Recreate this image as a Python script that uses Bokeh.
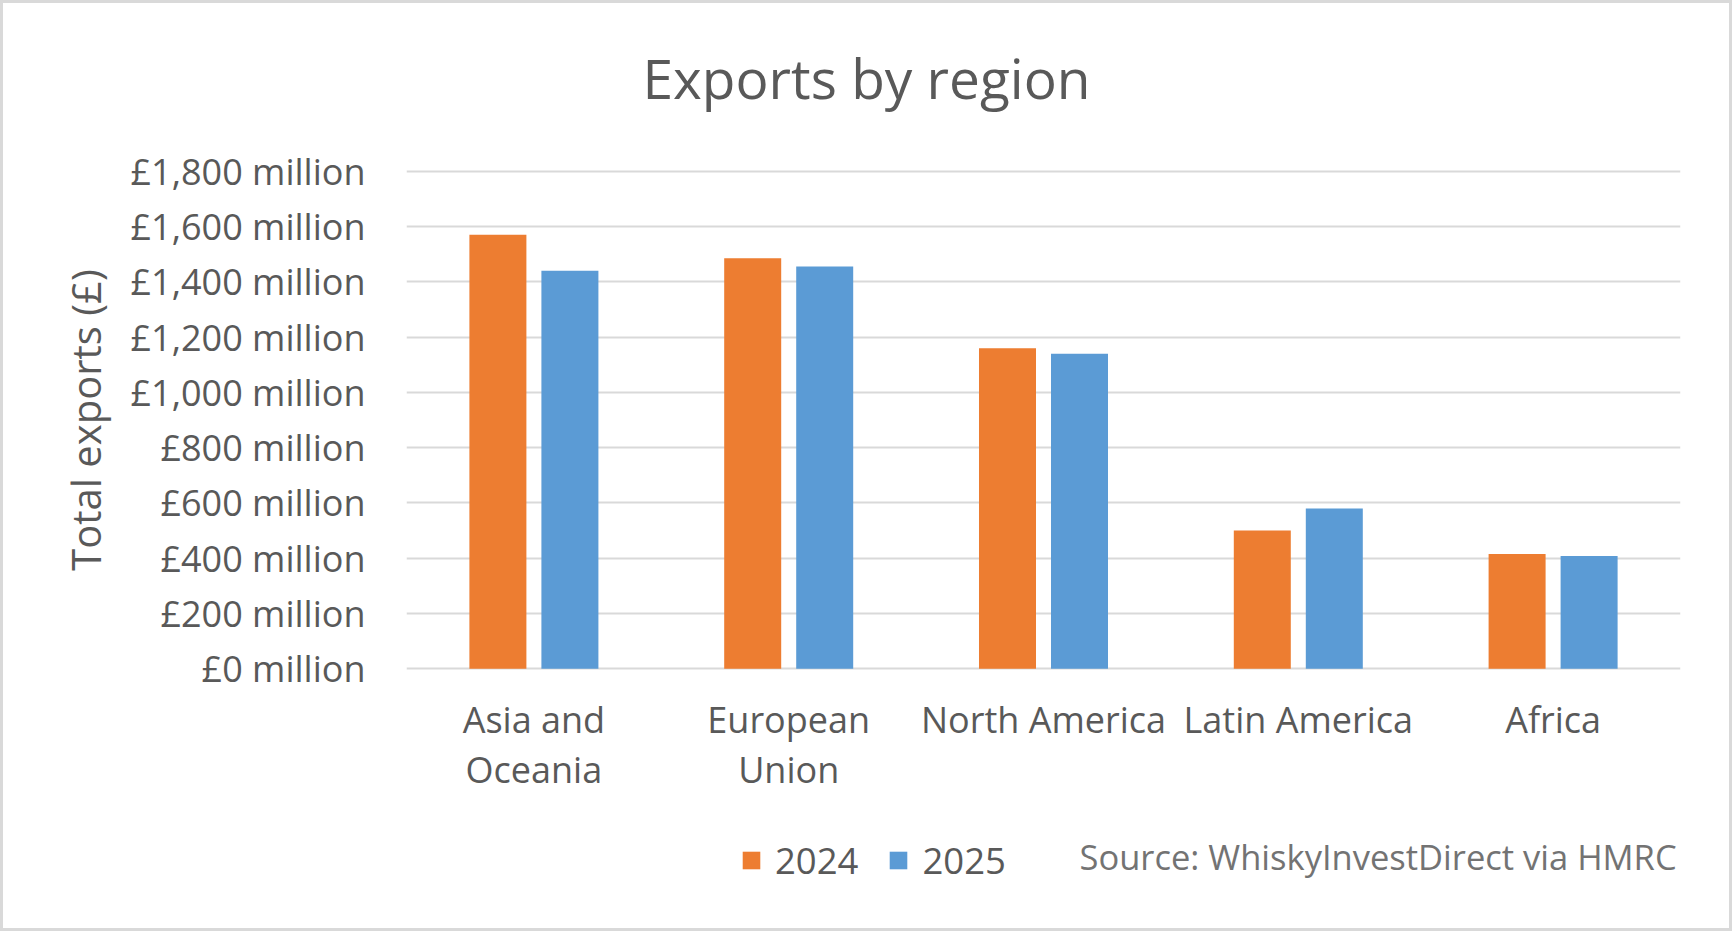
from bokeh.plotting import figure
from bokeh.layouts import column
from bokeh.models import (ColumnDataSource, FactorRange, Range1d, FixedTicker,
                          Label, Legend, LegendItem, CategoricalAxis, CustomJSTickFormatter)
from bokeh.transform import dodge
from bokeh.embed import file_html
from bokeh.resources import INLINE

# ---- data ----
regions = ["Asia and Oceania", "European Union", "North America", "Latin America", "Africa"]
label_line1 = ["Asia and", "European", "North America", "Latin America", "Africa"]
label_line2 = ["Oceania", "Union", "", "", ""]
exports_2024 = [1570, 1485, 1160, 500, 415]
exports_2025 = [1440, 1455, 1140, 580, 408]
series_names = ["2024", "2025"]
y_ticks = [0, 200, 400, 600, 800, 1000, 1200, 1400, 1600, 1800]
y_tick_labels = ["£0 million", "£200 million", "£400 million", "£600 million", "£800 million",
                 "£1,000 million", "£1,200 million", "£1,400 million", "£1,600 million",
                 "£1,800 million"]
title_text = "Exports by region"
y_title = "Total exports (£)"
source_text = "Source: WhiskyInvestDirect via HMRC"

ORANGE = "#ED7D31"
BLUE = "#5B9BD5"
GRID = "#D9D9D9"
TXT = "#595959"
FONT = "Open Sans"

B = 3                      # outer border width
W = 1732 - 2 * B           # content width
FL, FR, FT, FB = 406, 1680, 168, 671   # frame edges (page px)
TOP_END = 133              # page y where the title strip ends
TOP_H = TOP_END - B
MAIN_BOTTOM = 810
MAIN_H = MAIN_BOTTOM - TOP_END
BOT_H = 931 - B - MAIN_BOTTOM


def strip(h):
    # frames of stacked figures are aligned with the main chart frame (FL..FR)
    f = figure(width=W, height=h, x_range=Range1d(FL, FR), y_range=Range1d(h, 0),
               output_backend="svg", toolbar_location=None, title=None,
               x_axis_location=None, y_axis_location=None, min_border=0)
    f.outline_line_color = None
    f.background_fill_color = "white"
    f.border_fill_color = "white"
    f.xgrid.visible = False
    f.ygrid.visible = False
    return f


# ---- title strip ----
top = strip(TOP_H)
top.add_layout(Label(x=866, y=77 - B, text=title_text, text_font=FONT,
                     text_font_size="55px", text_color=TXT,
                     text_align="center", text_baseline="middle"))

# ---- main chart ----
src = ColumnDataSource(dict(region=regions, y2024=exports_2024, y2025=exports_2025))

p = figure(width=W, height=MAIN_H, output_backend="svg", toolbar_location=None, title=None,
           x_range=FactorRange(*regions, range_padding=0, factor_padding=0),
           y_range=Range1d(-10, 1810))
p.min_border_left = FL - B
p.min_border_right = (1732 - B) - FR
p.min_border_top = FT - TOP_END
p.min_border_bottom = MAIN_BOTTOM - FB
p.outline_line_color = None
p.background_fill_color = "white"
p.border_fill_color = "white"

bw = 0.2237
off = 0.1413
r1 = p.vbar(x=dodge("region", -off, range=p.x_range), top="y2024", width=bw, source=src,
            fill_color=ORANGE, line_color=None)
r2 = p.vbar(x=dodge("region", off, range=p.x_range), top="y2025", width=bw, source=src,
            fill_color=BLUE, line_color=None)

yax = p.yaxis[0]
yax.ticker = FixedTicker(ticks=y_ticks)
yax.major_label_overrides = {t: l for t, l in zip(y_ticks, y_tick_labels)}
yax.axis_line_color = None
yax.major_tick_line_color = None
yax.minor_tick_line_color = None
yax.major_tick_out = 0
yax.major_tick_in = 0
yax.minor_tick_out = 0
yax.major_label_standoff = 41
yax.major_label_text_font = FONT
yax.major_label_text_font_size = "36px"
yax.major_label_text_color = TXT
yax.axis_label = y_title
yax.axis_label_text_font = FONT
yax.axis_label_text_font_size = "40px"
yax.axis_label_text_font_style = "normal"
yax.axis_label_text_color = TXT
yax.axis_label_standoff = 14


def style_xaxis(ax, labels, standoff):
    ax.formatter = CustomJSTickFormatter(
        args=dict(names=regions, labels=labels),
        code="const i = names.indexOf(tick); return i < 0 ? String(tick) : labels[i];")
    ax.axis_line_color = None
    ax.major_tick_line_color = None
    ax.minor_tick_line_color = None
    ax.major_tick_out = 0
    ax.major_tick_in = 0
    ax.major_label_standoff = standoff
    ax.major_label_text_font = FONT
    ax.major_label_text_font_size = "36px"
    ax.major_label_text_color = TXT


style_xaxis(p.xaxis[0], label_line1, 23)
ax2 = CategoricalAxis()
style_xaxis(ax2, label_line2, -2)
p.add_layout(ax2, "below")

p.xgrid.grid_line_color = None
p.ygrid.grid_line_color = GRID
p.ygrid.grid_line_width = 2.2

# ---- legend + source strip ----
bot = strip(BOT_H)
# legend swatches (same data; they map outside this strip's numeric range, only the key shows)
d1 = bot.vbar(x="region", top="y2024", width=1, source=src, fill_color=ORANGE, line_color=None)
d2 = bot.vbar(x="region", top="y2025", width=1, source=src, fill_color=BLUE, line_color=None)
legend = Legend(items=[LegendItem(label=series_names[0], renderers=[d1]),
                       LegendItem(label=series_names[1], renderers=[d2])],
                location=(740 - FL, 43), orientation="horizontal",
                glyph_width=22, glyph_height=22, label_standoff=13, spacing=29,
                padding=0, margin=0, border_line_color=None, background_fill_alpha=0,
                label_text_font=FONT, label_text_font_size="36.5px", label_text_color=TXT)
bot.add_layout(legend, "center")
bot.add_layout(Label(x=1079, y=856 - MAIN_BOTTOM, text=source_text, text_font=FONT,
                     text_font_size="34.5px", text_color="#737373",
                     text_align="left", text_baseline="middle"))

layout = column(top, p, bot, spacing=0, styles={"border": f"{B}px solid {GRID}"})

open("out.html", "w").write(file_html(layout, INLINE))
